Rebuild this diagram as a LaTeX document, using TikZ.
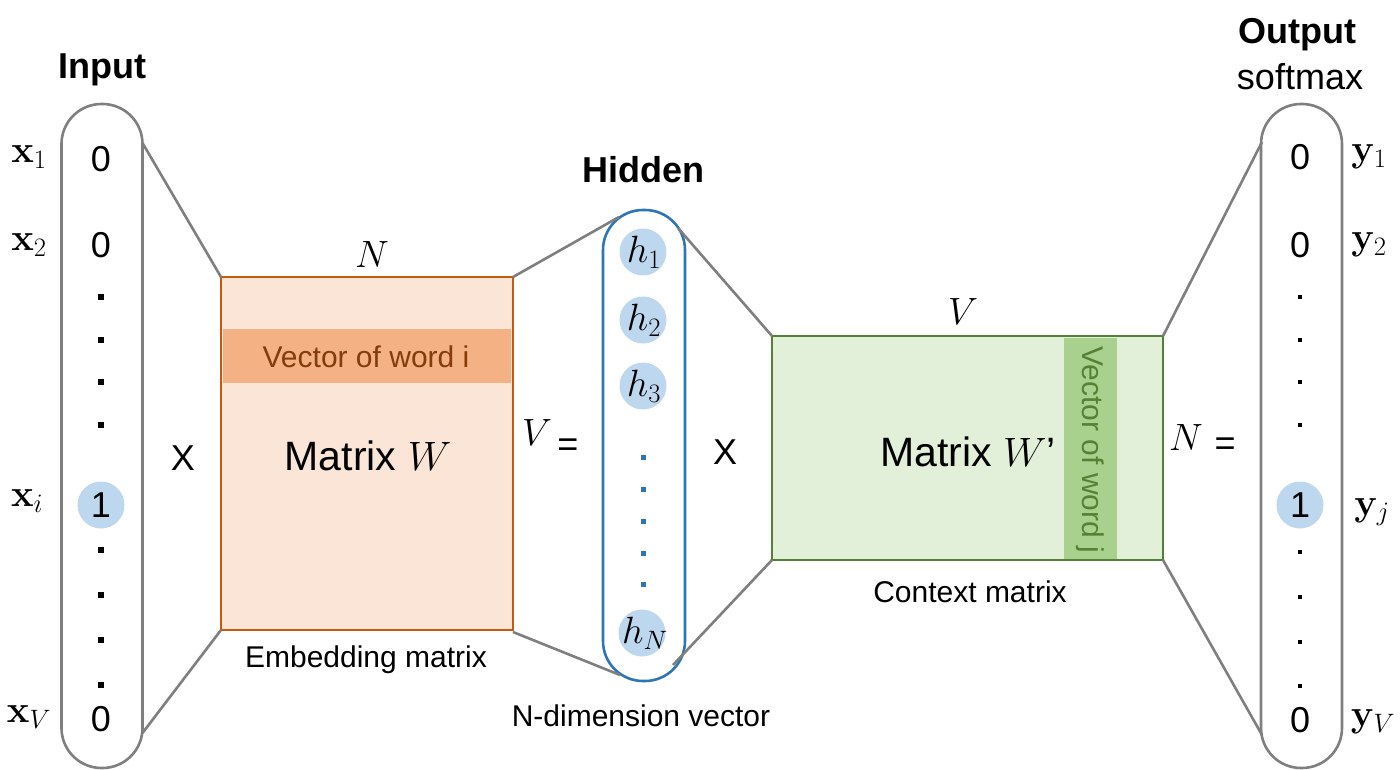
\RequirePackage{fix-cm}
\documentclass[tikz,border=0pt]{standalone}
\usepackage[no-math]{fontspec}
\setmainfont{Liberation Sans}
\usetikzlibrary{shapes.geometric}
\definecolor{capgray}{HTML}{7F7F7F}
\definecolor{lblue}{HTML}{BDD7EE}
\definecolor{hblue}{HTML}{2E75B6}
\definecolor{embfill}{HTML}{FBE5D6}
\definecolor{embedge}{HTML}{C55A11}
\definecolor{embband}{HTML}{F4B183}
\definecolor{embtext}{HTML}{843C0C}
\definecolor{ctxfill}{HTML}{E2F0D9}
\definecolor{ctxedge}{HTML}{548235}
\definecolor{ctxband}{HTML}{A9D18E}
\tikzset{
  capsule/.style={draw=capgray, line width=2.6pt, rounded corners=40pt, inner sep=0pt, outer sep=0pt, minimum width=81pt},
  conn/.style={draw=capgray, line width=2.6pt},
  big/.style={font=\fontsize{36}{40}\selectfont, inner sep=0pt},
  mid/.style={font=\fontsize{30}{34}\selectfont, inner sep=0pt},
  huge/.style={font=\fontsize{41}{46}\selectfont, inner sep=0pt},
  head/.style={font=\fontsize{36}{40}\selectfont\bfseries, inner sep=0pt},
  mlab/.style={font=\fontsize{38}{42}\selectfont, inner sep=0pt},
  blob/.style={circle, fill=lblue, minimum size=47pt, inner sep=0pt},
  dotsq/.style={rectangle, fill=black, minimum size=5.5pt, inner sep=0pt},
  sdotsq/.style={rectangle, fill=black, minimum size=4pt, inner sep=0pt},
  hdotsq/.style={rectangle, fill=hblue, minimum size=5pt, inner sep=0pt},
  embbox/.style={fill=embfill, inner sep=0pt, outer sep=0pt, minimum width=292pt, minimum height=353pt},
  ctxbox/.style={fill=ctxfill, inner sep=0pt, outer sep=0pt, minimum width=391pt, minimum height=224pt},
}
\begin{document}
\begin{tikzpicture}[x=1pt,y=-1pt]
\useasboundingbox (0,0) rectangle (1400,770);

% ---------- Input column ----------
\node[head] (inhead) at (102,70) {Input};
\node[capsule, minimum height=664pt] (in) at (102,436) {};
\node[big] (in1) at (101,159) {0};
\node[big] (in2) at (101,245) {0};
\node[dotsq] (ind1) at (101,297) {};
\node[dotsq] (ind2) at (101,340) {};
\node[dotsq] (ind3) at (101,382) {};
\node[dotsq] (ind4) at (101,425) {};
\node[blob] (inib) at (101,505) {};
\node[big] (ini) at (101,505) {1};
\node[dotsq] (ind5) at (101,550) {};
\node[dotsq] (ind6) at (101,595) {};
\node[dotsq] (ind7) at (101,640) {};
\node[dotsq] (ind8) at (101,685) {};
\node[big] (inV) at (101,719) {0};
\node[mlab] (lx1) at (29,157) {$\mathbf{x}_1$};
\node[mlab] (lx2) at (29,245) {$\mathbf{x}_2$};
\node[mlab] (lxi) at (27,501) {$\mathbf{x}_i$};
\node[mlab] (lxV) at (29,717) {$\mathbf{x}_V$};
\node[big] (times1) at (183,458) {X};

% ---------- Embedding matrix ----------
\node[embbox] (W) at (367,453.5) {};
\node[fill=embband, minimum width=288pt, minimum height=54pt, inner sep=0pt] (Wband) at (366.5,356) {};
\node[mid, text=embtext] (Wbandt) at (366,357) {Vector of word i};
\draw[draw=embedge, line width=2.6pt] (W.north west) rectangle (W.south east);
\node[huge] (Wt) at (368,456) {Matrix $W$};
\node[mlab] (WN) at (372,255) {$N$};
\node[mid] (Wcap) at (366,660) {Embedding matrix};
\node[mlab] (WV) at (537,433) {$V$};
\node[big] (eq1) at (568,448) {=};

% ---------- Hidden column ----------
\node[head] (hidhead) at (643,170) {Hidden};
\node[draw=hblue, line width=2.6pt, rounded corners=40pt, inner sep=0pt, outer sep=0pt, minimum width=82pt, minimum height=471pt] (hid) at (644,445.5) {};
\node[blob] (h1) at (643,252) {};
\node[mlab] at (644,252) {$h_1$};
\node[blob] (h2) at (643,320) {};
\node[mlab] at (644,320) {$h_2$};
\node[blob] (h3) at (643,386) {};
\node[mlab] at (644,386) {$h_3$};
\node[hdotsq] (hd1) at (643,457) {};
\node[hdotsq] (hd2) at (643,489) {};
\node[hdotsq] (hd3) at (643,521) {};
\node[hdotsq] (hd4) at (643,553) {};
\node[hdotsq] (hd5) at (643,584) {};
\node[blob] (hN) at (642,633) {};
\node[mlab] at (645,633) {$h_N$};
\node[mid] (hidcap) at (641,716) {N-dimension vector};
\node[big] (times2) at (725,452) {X};

% ---------- Context matrix ----------
\node[ctxbox] (C) at (967.5,448) {};
\node[fill=ctxband, minimum width=53pt, minimum height=221pt, inner sep=0pt] (Cband) at (1090.5,448) {};
\node[mid, text=ctxedge, rotate=-90] (Cbandt) at (1090,450) {Vector of word j};
\draw[draw=ctxedge, line width=2.6pt] (C.north west) rectangle (C.south east);
\node[huge] (Ct) at (968,452) {Matrix $W$’};
\node[mlab] (CV) at (963,312) {$V$};
\node[mid] (Ccap) at (970,592) {Context matrix};
\node[mlab] (CN) at (1186,438) {$N$};
\node[big] (eq2) at (1225,447) {=};

% ---------- Output column ----------
\node[head] (outhead) at (1297,35) {Output};
\node[big] (outsm) at (1300,77) {softmax};
\node[capsule, minimum height=664pt] (out) at (1301.5,436) {};
\node[big] (out1) at (1300,157) {0};
\node[big] (out2) at (1300,245) {0};
\node[sdotsq] (od1) at (1300,297) {};
\node[sdotsq] (od2) at (1300,340) {};
\node[sdotsq] (od3) at (1300,382) {};
\node[sdotsq] (od4) at (1300,425) {};
\node[blob] (outjb) at (1300,505) {};
\node[big] (outj) at (1300,505) {1};
\node[sdotsq] (od5) at (1300,552) {};
\node[sdotsq] (od6) at (1300,597) {};
\node[sdotsq] (od7) at (1300,642) {};
\node[sdotsq] (od8) at (1300,686) {};
\node[big] (outV) at (1300,720) {0};
\node[mlab] (ly1) at (1369,157) {$\mathbf{y}_1$};
\node[mlab] (ly2) at (1369,245) {$\mathbf{y}_2$};
\node[mlab] (lyj) at (1372,512) {$\mathbf{y}_j$};
\node[mlab] (lyV) at (1373,722) {$\mathbf{y}_V$};

% ---------- Connectors ----------
\draw[conn] ([yshift=-39pt]in.north east) -- (W.north west);
\draw[conn] ([yshift=35pt]in.south east) -- (W.south west);
\draw[conn] (W.north east) -- ([xshift=-25pt,yshift=-7pt]hid.north);
\draw[conn] ([yshift=-2pt]W.south east) -- ([xshift=-24pt,yshift=6pt]hid.south);
\draw[conn] ([xshift=34pt,yshift=-18pt]hid.north) -- (C.north west);
\draw[conn] ([xshift=29pt,yshift=16pt]hid.south) -- (C.south west);
\draw[conn] (C.north east) -- ([xshift=1pt,yshift=-38pt]out.north west);
\draw[conn] (C.south east) -- ([xshift=1pt,yshift=33pt]out.south west);
\end{tikzpicture}
\end{document}
